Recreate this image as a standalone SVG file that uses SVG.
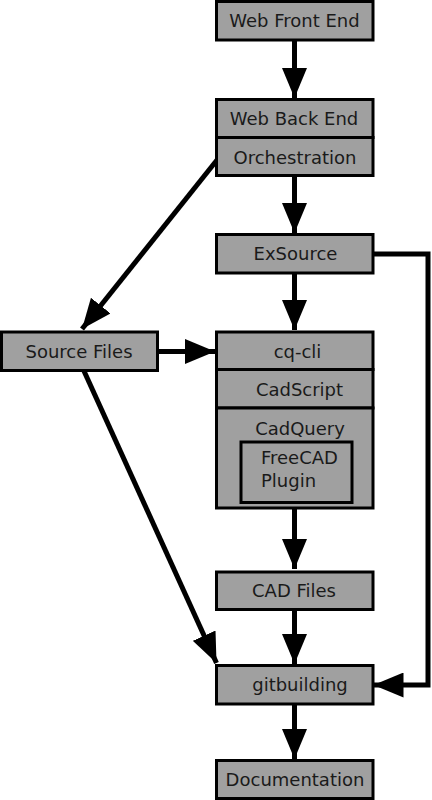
<svg xmlns="http://www.w3.org/2000/svg" width="432" height="800" viewBox="0 0 432 800">
<defs>
<style>
.box{fill:#a0a0a0;stroke:#000;stroke-width:3}
.t{font-family:"DejaVu Sans",sans-serif;font-size:18px;fill:#1a1a1a;text-anchor:middle}
.tl{font-family:"DejaVu Sans",sans-serif;font-size:18px;fill:#1a1a1a}
.c{fill:none;stroke:#000;stroke-width:5}
</style>
<marker id="ah" viewBox="0 0 30 25" refX="30" refY="12.5" markerWidth="30" markerHeight="25" markerUnits="userSpaceOnUse" orient="auto">
<path d="M0,0 L30,12.5 L0,25 Z" fill="#000"/>
</marker>
</defs>
<g id="connectors">
<line class="c" x1="294.5" y1="40" x2="294.5" y2="98" marker-end="url(#ah)"/>
<line class="c" x1="294.5" y1="176" x2="294.5" y2="233" marker-end="url(#ah)"/>
<line class="c" x1="294.5" y1="273" x2="294.5" y2="330" marker-end="url(#ah)"/>
<line class="c" x1="217" y1="160" x2="82" y2="329" marker-end="url(#ah)"/>
<line class="c" x1="157" y1="351.5" x2="215" y2="351.5" marker-end="url(#ah)"/>
<line class="c" x1="84" y1="371" x2="216.5" y2="663" marker-end="url(#ah)"/>
<line class="c" x1="294.5" y1="508" x2="294.5" y2="569" marker-end="url(#ah)"/>
<line class="c" x1="294.5" y1="609" x2="294.5" y2="664" marker-end="url(#ah)"/>
<line class="c" x1="294.5" y1="704" x2="294.5" y2="759" marker-end="url(#ah)"/>
<polyline class="c" points="373,254 428,254 428,685 373.5,685" marker-end="url(#ah)"/>
</g>
<g id="web-front-end">
<rect class="box" x="216.5" y="1.5" width="156.5" height="38.5"/>
<text class="t" x="294.5" y="26.5">Web Front End</text>
</g>
<g id="web-back-end">
<rect class="box" x="216.5" y="99.5" width="156.5" height="38"/>
<text class="t" x="294" y="125">Web Back End</text>
</g>
<g id="orchestration">
<rect class="box" x="216.5" y="137.5" width="156.5" height="38"/>
<text class="t" x="295" y="163.5">Orchestration</text>
</g>
<g id="exsource">
<rect class="box" x="216.5" y="234.5" width="156.5" height="38.5"/>
<text class="t" x="295.5" y="260">ExSource</text>
</g>
<g id="source-files">
<rect class="box" x="1.5" y="332" width="156" height="38.5"/>
<text class="t" x="79" y="358">Source Files</text>
</g>
<g id="cq-cli">
<rect class="box" x="216.5" y="332" width="156.5" height="37.5"/>
<text class="t" x="297.5" y="358">cq-cli</text>
</g>
<g id="cadscript">
<rect class="box" x="216.5" y="369.5" width="156.5" height="38.5"/>
<text class="t" x="299.5" y="396">CadScript</text>
</g>
<g id="cadquery">
<rect class="box" x="216.5" y="408" width="156.5" height="100"/>
<text class="t" x="300" y="434.5">CadQuery</text>
</g>
<g id="freecad-plugin">
<rect class="box" x="241" y="442" width="111" height="60.5"/>
<text class="tl" x="261" y="464">FreeCAD</text>
<text class="tl" x="261" y="487">Plugin</text>
</g>
<g id="cad-files">
<rect class="box" x="216.5" y="572" width="156.5" height="37.5"/>
<text class="t" x="294" y="597">CAD Files</text>
</g>
<g id="gitbuilding">
<rect class="box" x="216.5" y="665.5" width="156.5" height="38.5"/>
<text class="t" x="300" y="690.5">gitbuilding</text>
</g>
<g id="documentation">
<rect class="box" x="216.5" y="760.5" width="156.5" height="38"/>
<text class="t" x="295" y="785.5">Documentation</text>
</g>
</svg>
